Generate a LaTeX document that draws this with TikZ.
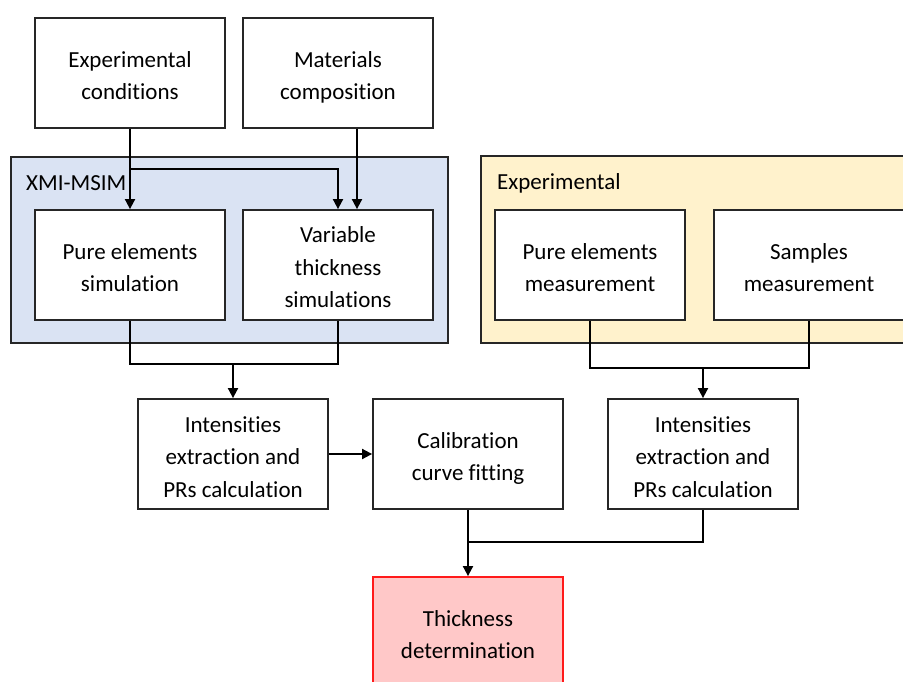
\documentclass[tikz,border=0pt]{standalone}
\usepackage{fontspec}
\setmainfont{Carlito}[Ligatures={NoCommon,NoContextual}]
\usetikzlibrary{arrows.meta,calc}
\definecolor{xmiblue}{HTML}{DAE3F3}
\definecolor{expyellow}{HTML}{FFF2CC}
\definecolor{resred}{HTML}{FFC8C8}
\definecolor{resborder}{HTML}{FF1A1A}
\newcommand{\bxtext}[1]{\raisebox{-4pt}[\height][\depth]{\begin{tabular}{@{}c@{}}#1\end{tabular}}}
\begin{document}
\begin{tikzpicture}[x=1pt,y=-1pt,
  every node/.style={font=\fontsize{23}{32.5}\selectfont},
  box/.style={draw=black!85,line width=1.8pt,fill=white,inner sep=0pt,
    minimum width=190pt,minimum height=110pt},
  group/.style={draw=black!85,line width=1.8pt},
  wire/.style={draw=black,line width=1.8pt},
  arr/.style={wire,-{Triangle[length=10pt,width=10pt]}},
  lbl/.style={anchor=west,inner sep=0pt}]
\useasboundingbox (0,0) rectangle (903,682);
\clip (0,0) rectangle (903,682);
% groups
\path[group,fill=xmiblue] (11,157) rectangle (448,343);
\path[group,fill=expyellow] (481,156) rectangle (915,343);
\node[lbl] (xmi) at (26,183) {XMI-MSIM};
\node[lbl] (expl) at (497,183) {Experimental};
% boxes
\node[box] (ec) at (130,73) {\bxtext{Experimental\\conditions}};
\node[box] (mc) at (338,73) {\bxtext{Materials\\composition}};
\node[box] (pes) at (130,265) {\bxtext{Pure elements\\simulation}};
\node[box] (vts) at (338,265) {\bxtext{Variable\\thickness\\simulations}};
\node[box] (pem) at (590,265) {\bxtext{Pure elements\\measurement}};
\node[box] (sm) at (809,265) {\bxtext{Samples\\measurement}};
\node[box] (il) at (233,454) {\bxtext{Intensities\\extraction and\\PRs calculation}};
\node[box] (cal) at (468,454) {\bxtext{Calibration\\curve fitting}};
\node[box] (ir) at (703,454) {\bxtext{Intensities\\extraction and\\PRs calculation}};
\node[box,draw=resborder,fill=resred] (th) at (468,632) {\bxtext{Thickness\\determination}};
% connectors top
\coordinate (b1) at (ec.south |- 0,169);
\draw[arr] (ec.south) -- (pes.north);
\draw[arr] (b1) -| (vts.north);
\draw[arr] ([xshift=19pt]mc.south) -- ([xshift=19pt]mc.south |- vts.north);
% merge left
\coordinate (m1) at (il.north |- 0,364);
\draw[wire] (pes.south) |- (m1) -| (vts.south);
\draw[arr] (m1) -- (il.north);
% merge right
\coordinate (m2) at (ir.north |- 0,368);
\draw[wire] (pem.south) |- (m2) -| (sm.south);
\draw[arr] (m2) -- (ir.north);
% middle
\draw[arr] (il.east) -- (cal.west);
\coordinate (m3) at (cal.south |- 0,542);
\draw[arr] (cal.south) -- (th.north);
\draw[wire] (ir.south) |- (m3);
\end{tikzpicture}
\end{document}
